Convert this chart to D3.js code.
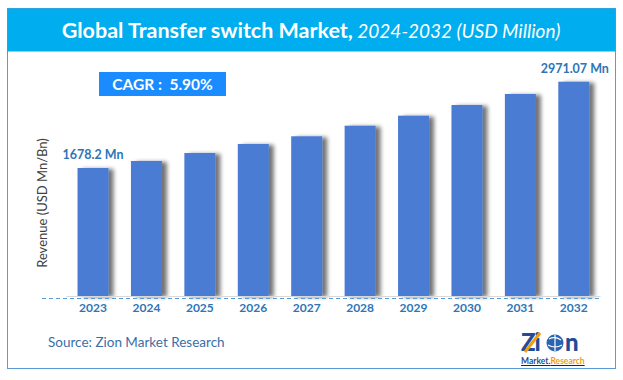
<!DOCTYPE html>
<html>
<head>
<meta charset="utf-8">
<script src="https://cdn.jsdelivr.net/npm/d3@7"></script>
<style>
  html, body { margin: 0; padding: 0; background: #fff; }
  svg { display: block; }
  text { font-family: Lato, "Open Sans", "Liberation Sans", sans-serif; }
</style>
</head>
<body>
<svg id="chart" width="623" height="380"></svg>
<script>
// ---- data ----
const years = ["2023","2024","2025","2026","2027","2028","2029","2030","2031","2032"];
const revenue = [1678.2, 1783, 1903, 2038, 2153, 2312, 2462, 2622, 2787, 2971.07];
const labelledYears = ["2023", "2032"];
const valueLabels = ["1678.2 Mn", "2971.07 Mn"];
const titleBold = "Global Transfer switch Market,";
const titleItalic = " 2024-2032 (USD Million)";
const cagrText = "CAGR :  5.90%";
const yAxisTitle = "Revenue (USD Mn/Bn)";
const sourceText = "Source: Zion Market Research";
const yDomainMin = -240;

const svg = d3.select("#chart");

// shadow filter
const defs = svg.append("defs");
const f = defs.append("filter").attr("id", "shadow")
  .attr("x", "-20%").attr("y", "-10%").attr("width", "160%").attr("height", "120%");
f.append("feGaussianBlur").attr("in", "SourceAlpha").attr("stdDeviation", 2.2).attr("result", "b");
f.append("feOffset").attr("in", "b").attr("dx", 5).attr("dy", 1).attr("result", "o");
f.append("feComponentTransfer").attr("in", "o").attr("result", "o2")
  .append("feFuncA").attr("type", "linear").attr("slope", 0.55);
const m = f.append("feMerge");
m.append("feMergeNode").attr("in", "o2");
m.append("feMergeNode").attr("in", "SourceGraphic");

// frame
svg.append("rect").attr("x", 7.5).attr("y", 8.5).attr("width", 608).attr("height", 360)
  .attr("fill", "#fff").attr("stroke", "#5b9bd5").attr("stroke-width", 1);
// title bar
svg.append("rect").attr("x", 7.5).attr("y", 8.5).attr("width", 608).attr("height", 43)
  .attr("fill", "#00aeef");
const title = svg.append("text").attr("x", 311).attr("y", 38)
  .attr("text-anchor", "middle").attr("fill", "#fff").attr("font-size", 21.5);
title.append("tspan").attr("font-weight", "bold").text(titleBold);
title.append("tspan").attr("font-style", "italic").attr("font-size", 19).text(titleItalic);

// scales
const x = d3.scaleBand().domain(years).range([66.3, 600.5]).paddingInner(0.42).paddingOuter(0.21);
const y = d3.scaleLinear().domain([yDomainMin, d3.max(revenue)]).range([296, 81.7]);

// bars
svg.append("g").selectAll("rect").data(years).join("rect")
  .attr("x", d => x(d))
  .attr("y", (d, i) => y(revenue[i]))
  .attr("width", x.bandwidth())
  .attr("height", (d, i) => y(yDomainMin) - y(revenue[i]))
  .attr("fill", "#4a7bd2")
  .attr("filter", "url(#shadow)");

// baseline
svg.append("line").attr("x1", x.range()[0]).attr("x2", x.range()[1])
  .attr("y1", 296.5).attr("y2", 296.5).attr("stroke", "#d9d9d9").attr("stroke-width", 1.2);
svg.append("line").attr("x1", 42).attr("x2", 600).attr("y1", 298.5).attr("y2", 298.5)
  .attr("stroke", "#5b9bd5").attr("stroke-width", 1).attr("stroke-dasharray", "4,3");

// x axis labels
const xAxis = d3.axisBottom(x).tickSize(0).tickPadding(0);
const gx = svg.append("g").attr("transform", "translate(0,303)").call(xAxis);
gx.select(".domain").remove();
gx.selectAll("text").attr("fill", "#2e75b6").attr("font-size", 12).attr("font-weight", "bold")
  .attr("dy", "0.71em")
  .style("font-family", "Lato, 'Open Sans', sans-serif");

// value labels
svg.append("g").selectAll("text").data(labelledYears).join("text")
  .attr("x", d => x(d) + x.bandwidth() / 2 - (d === "2023" ? 0 : -1))
  .attr("y", d => y(revenue[years.indexOf(d)]) - 9)
  .attr("text-anchor", "middle").attr("fill", "#2e75b6")
  .attr("font-size", 12.5).attr("font-weight", "bold")
  .text((d, i) => valueLabels[i]);

// CAGR box
svg.append("rect").attr("x", 99).attr("y", 72).attr("width", 127).attr("height", 24)
  .attr("fill", "#1a8cff");
svg.append("text").attr("x", 162.5).attr("y", 89.5).attr("text-anchor", "middle")
  .attr("fill", "#fff").attr("font-size", 15.5).attr("font-weight", "bold")
  .attr("xml:space", "preserve").style("white-space", "pre").text(cagrText);

// y axis title
svg.append("text").attr("transform", "translate(47,203) rotate(-90)")
  .attr("text-anchor", "middle").attr("fill", "#404040").attr("font-size", 13)
  .text(yAxisTitle);

// source
svg.append("text").attr("x", 48).attr("y", 347).attr("fill", "#3a6ea5")
  .attr("font-size", 13.5).text(sourceText);

// logo
const logo = svg.append("g").attr("transform", "translate(521,330)");
logo.append("text").attr("x", 0).attr("y", 21).attr("fill", "#1f4e96")
  .attr("font-size", 24).attr("font-weight", "900").attr("letter-spacing", "-1")
  .text("Zi");
logo.append("circle").attr("cx", 34).attr("cy", 13).attr("r", 8.5).attr("fill", "#2a64b0");
logo.append("path").attr("d", "M28,9 Q34,6 40,10 M27,15 Q34,19 41,15 M34,5 L34,21")
  .attr("stroke", "#fff").attr("stroke-width", 1.2).attr("fill", "none");
logo.append("text").attr("x", 44).attr("y", 21).attr("fill", "#1f4e96")
  .attr("font-size", 24).attr("font-weight", "900").text("n");
logo.append("path").attr("d", "M4,22 L19,3").attr("stroke", "#f39c12").attr("stroke-width", 3);
logo.append("text").attr("x", 0).attr("y", 34).attr("font-size", 8.5).attr("font-weight", "bold")
  .attr("text-decoration", "underline")
  .call(t => {
    t.append("tspan").attr("fill", "#1f4e96").text("Market.");
    t.append("tspan").attr("fill", "#f39c12").text("Research");
  });
</script>
</body>
</html>
